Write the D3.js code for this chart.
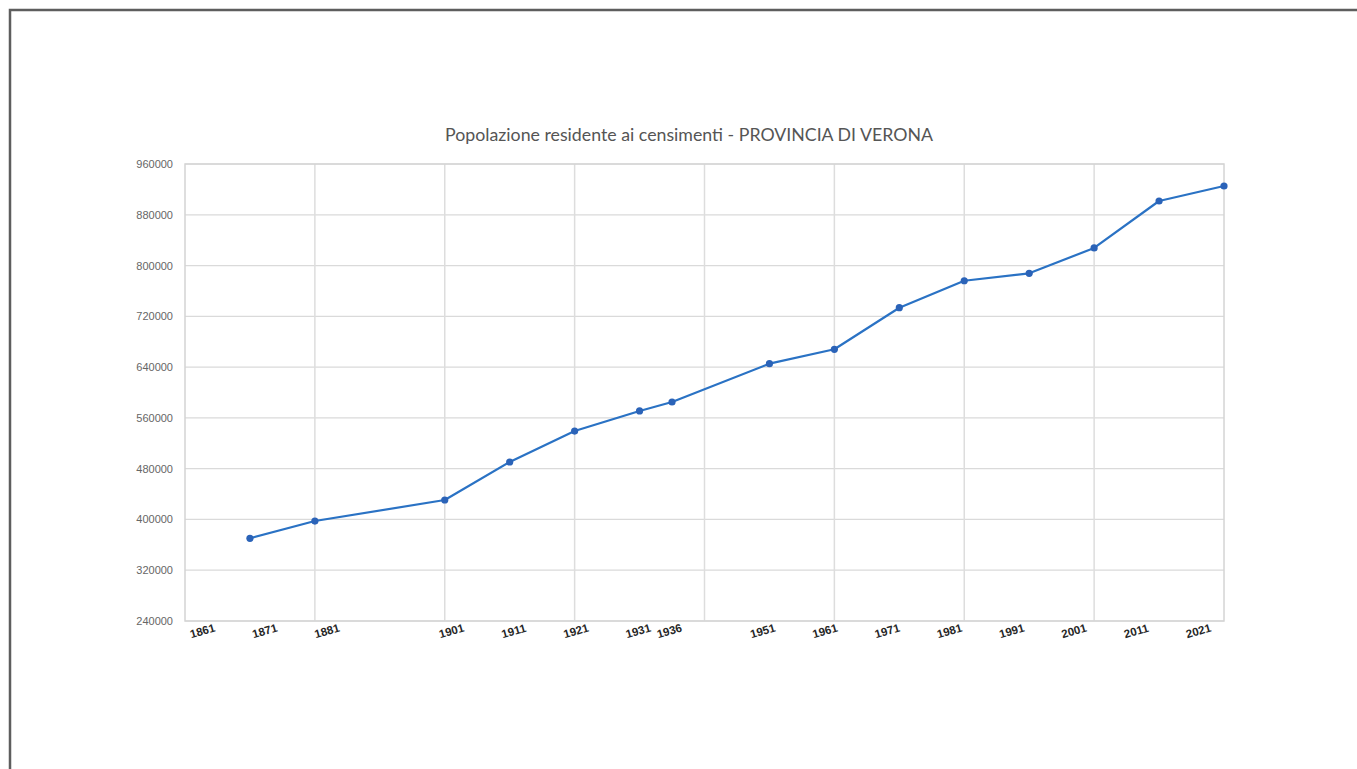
<!DOCTYPE html>
<html>
<head>
<meta charset="utf-8">
<script src="https://cdn.jsdelivr.net/npm/d3@7"></script>
<style>
  html, body { margin: 0; padding: 0; background: #fff; }
  svg { display: block; }
</style>
</head>
<body>
<svg id="chart" width="1357" height="769"></svg>
<script>
// Census years and resident population, Province of Verona
const years = [1871, 1881, 1901, 1911, 1921, 1931, 1936, 1951, 1961, 1971, 1981, 1991, 2001, 2011, 2021];
const population = [370300, 397500, 430600, 490500, 539300, 570900, 585000, 645400, 668100, 733600, 776100, 787800, 827700, 901700, 925300];

// Axis labels
const yearLabels = [1861, 1871, 1881, 1901, 1911, 1921, 1931, 1936, 1951, 1961, 1971, 1981, 1991, 2001, 2011, 2021];
const yTicks = [240000, 320000, 400000, 480000, 560000, 640000, 720000, 800000, 880000, 960000];
const xGridYears = [1881, 1901, 1921, 1941, 1961, 1981, 2001];

const titleText = "Popolazione residente ai censimenti - PROVINCIA DI VERONA";

const svg = d3.select("#chart");
const plot = { left: 185, right: 1224, top: 164, bottom: 621 };

// Page frame
svg.append("path")
  .attr("d", "M10,769 L10,10 L1357,10")
  .attr("fill", "none")
  .attr("stroke", "#5e5e5e")
  .attr("stroke-width", 2.5);

const x = d3.scaleLinear().domain([1861, 2021]).range([plot.left, plot.right]);
const y = d3.scaleLinear().domain([240000, 960000]).range([plot.bottom, plot.top]);
// Category labels sit on their own, slightly narrower spread
const xLabel = d3.scaleLinear().domain([1861, 2021]).range([202, 1198]);

const grid = svg.append("g");
grid.selectAll("line.h")
  .data(yTicks)
  .join("line")
  .attr("class", "h")
  .attr("x1", plot.left).attr("x2", plot.right)
  .attr("y1", d => y(d)).attr("y2", d => y(d))
  .attr("stroke", "#dadada")
  .attr("stroke-width", 1.2);

grid.selectAll("line.v")
  .data(xGridYears)
  .join("line")
  .attr("class", "v")
  .attr("x1", d => x(d)).attr("x2", d => x(d))
  .attr("y1", plot.top).attr("y2", plot.bottom)
  .attr("stroke", "#dddddd")
  .attr("stroke-width", 1.5);

// Plot area border
svg.append("rect")
  .attr("x", plot.left).attr("y", plot.top)
  .attr("width", plot.right - plot.left)
  .attr("height", plot.bottom - plot.top)
  .attr("fill", "none")
  .attr("stroke", "#d4d4d4")
  .attr("stroke-width", 1.5);

// Y axis labels
const yAxis = svg.append("g")
  .attr("transform", `translate(${plot.left},0)`)
  .call(d3.axisLeft(y).tickValues(yTicks).tickSize(0).tickPadding(12).tickFormat(d3.format("d")));
yAxis.select(".domain").remove();
yAxis.selectAll("text")
  .attr("font-family", "Liberation Sans, Arial, sans-serif")
  .attr("font-size", 11)
  .attr("fill", "#666");

// X axis labels, tilted
const xAxis = svg.append("g")
  .attr("transform", `translate(0,${plot.bottom})`)
  .call(d3.axisBottom(xLabel).tickValues(yearLabels).tickSize(0).tickPadding(0).tickFormat(d3.format("d")));
xAxis.select(".domain").remove();
xAxis.selectAll("text")
  .attr("font-family", "Liberation Sans, Arial, sans-serif")
  .attr("font-size", 11.5)
  .attr("font-weight", "bold")
  .attr("fill", "#262626")
  .attr("dy", null)
  .attr("y", 0)
  .attr("text-anchor", "middle")
  .attr("dominant-baseline", "central")
  .attr("transform", "translate(0,10) rotate(-16)");

// Series line and markers
const line = d3.line()
  .x((d, i) => x(years[i]))
  .y(d => y(d));

svg.append("path")
  .datum(population)
  .attr("d", line)
  .attr("fill", "none")
  .attr("stroke", "#2a72c4")
  .attr("stroke-width", 2.2)
  .attr("stroke-linejoin", "round");

svg.selectAll("circle.pt")
  .data(population)
  .join("circle")
  .attr("class", "pt")
  .attr("cx", (d, i) => x(years[i]))
  .attr("cy", d => y(d))
  .attr("r", 3.6)
  .attr("fill", "#2b63b8");

// Title
const title = svg.append("text")
  .attr("x", 689)
  .attr("y", 134)
  .attr("text-anchor", "middle")
  .attr("dominant-baseline", "central")
  .attr("font-family", "Lato, Liberation Sans, sans-serif")
  .attr("font-size", 16)
  .attr("fill", "#555")
  .text(titleText);
const w = title.node().getComputedTextLength();
title.attr("font-size", 16 * 488 / w);
</script>
</body>
</html>
